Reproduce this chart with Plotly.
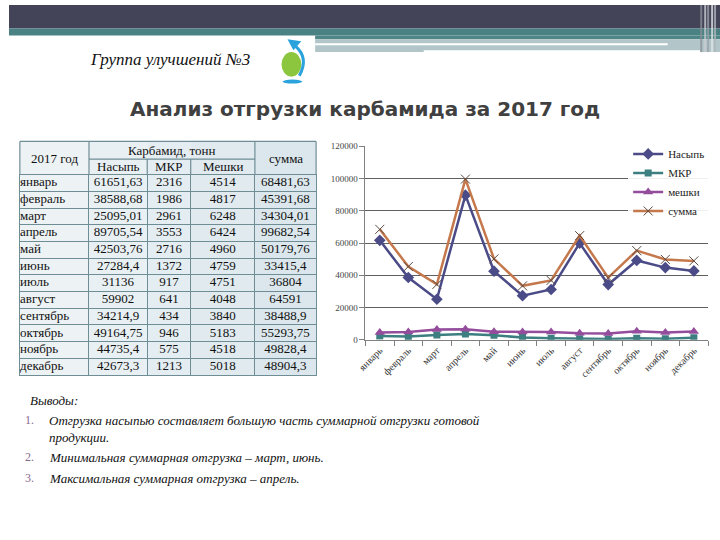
import plotly.graph_objects as go

W, H = 720, 540

months = ["январь", "февраль", "март", "апрель", "май", "июнь", "июль",
          "август", "сентябрь", "октябрь", "ноябрь", "декабрь"]
nasyp = [61651.63, 38588.68, 25095.01, 89705.54, 42503.76, 27284.4, 31136,
         59902, 34214.9, 49164.75, 44735.4, 42673.3]
mkr = [2316, 1986, 2961, 3553, 2716, 1372, 917, 641, 434, 946, 575, 1213]
meshki = [4514, 4817, 6248, 6424, 4960, 4759, 4751, 4048, 3840, 5183, 4518, 5018]
summa = [68481.63, 45391.68, 34304.01, 99682.54, 50179.76, 33415.4, 36804,
         64591, 38488.9, 55293.75, 49828.4, 48904.3]

series_names = ["Насыпь", "МКР", "мешки", "сумма"]
table_header_top = ["2017 год", "Карбамид, тонн", "сумма"]
table_header_sub = ["Насыпь", "МКР", "Мешки"]
title_group = "Группа улучшений №3"
title_main = "Анализ отгрузки карбамида за 2017 год"
conclusions_head = "Выводы:"
conclusions = [
    ["Отгрузка насыпью составляет большую часть суммарной отгрузки готовой", "продукции."],
    ["Минимальная суммарная отгрузка – март, июнь."],
    ["Максимальная суммарная отгрузка – апрель."],
]


def X(p):
    return p / W


def Y(p):
    return 1 - p / H


def fmt(v):
    return str(v).replace(".", ",")


SERIF = "Liberation Serif"
fig = go.Figure()

# ---------------- chart ----------------
styles = [
    dict(color="#4b4b88", symbol="diamond", size=9),
    dict(color="#3d7f80", symbol="square", size=7),
    dict(color="#944c9c", symbol="triangle-up", size=9),
    dict(color="#c4784c", symbol="x-thin-open", size=9),
]
for name, vals, st in zip(series_names, [nasyp, mkr, meshki, summa], styles):
    mk = dict(symbol=st["symbol"], size=st["size"], color=st["color"])
    if st["symbol"] == "x-thin-open":
        mk = dict(symbol="x-thin-open", size=st["size"], color="#5b4a42",
                  line=dict(color="#5b4a42", width=1))
    fig.add_trace(go.Scatter(
        x=months, y=vals, name=name, mode="lines+markers",
        line=dict(color=st["color"], width=2.5), marker=mk,
        xaxis="x", yaxis="y"))

# ---------------- table body via text on its own axes ----------------
col_edges = [0, 70, 129, 173, 238, 300]          # pixel widths of table columns
col_fills = ["#edf3f5", "#e8f0f3", "#e4edf1", "#e0eaef", "#dbe7ec"]
columns = [months, [fmt(v) for v in nasyp], [fmt(v) for v in mkr],
           [fmt(v) for v in meshki], [fmt(v) for v in summa]]
rows = [i + 0.5 for i in range(len(months))]
tfont = dict(family=SERIF, size=13, color="#111111")
for ci, col in enumerate(columns):
    if ci == 0:
        xpos = [col_edges[0] + 0.2] * len(col)
        tp = "middle right"
    else:
        xpos = [(col_edges[ci] + col_edges[ci + 1]) / 2] * len(col)
        tp = "middle center"
    fig.add_trace(go.Scatter(x=xpos, y=rows, text=col, mode="text", textposition=tp,
                             textfont=tfont, showlegend=False, hoverinfo="skip",
                             xaxis="x2", yaxis="y2", cliponaxis=False))

shapes = []
ann = []

# table fills (header + body)
TX0, TY0, TY1 = 11, 139, 377
for i in range(5):
    shapes.append(dict(type="rect", xref="paper", yref="paper", layer="below",
                       x0=X(TX0 + col_edges[i]), x1=X(TX0 + col_edges[i + 1]),
                       y0=Y(TY0), y1=Y(TY1), fillcolor=col_fills[i], line_width=0))


def prect(x0, x1, y0, y1, c, **kw):
    d = dict(type="rect", xref="paper", yref="paper", x0=X(x0), x1=X(x1), y0=Y(y0), y1=Y(y1),
             fillcolor=c, line_width=0)
    d.update(kw)
    return d


# ---------------- header band ----------------
shapes += [
    prect(0, 720, 0, 24, "#444458"),
    prect(0, 720, 24, 31, "#4a8283"),
    prect(310, 720, 31, 35, "#4f8788"),
    prect(310, 720, 35, 48, "#b2c6c9"),
    prect(310, 667, 39, 41, "#ffffff"),
    prect(420, 700, 46, 48, "#ffffff"),
]
for xx, c in [(700, "#8a8f99"), (704, "#c9cdd3"), (707, "#9aa0a8"), (711, "#e0e3e6"), (714, "#b0b5bb")]:
    shapes.append(prect(xx, xx + 2, 0, 48, c, opacity=0.8))

# logo
shapes += [
    dict(type="circle", xref="paper", yref="paper", x0=X(276), x1=X(296), y0=Y(48), y1=Y(73),
         fillcolor="#8cc63f", line_width=0),
    dict(type="circle", xref="paper", yref="paper", x0=X(277), x1=X(297), y0=Y(76), y1=Y(80),
         fillcolor="#2aa3dc", line_width=0),
    dict(type="path", xref="paper", yref="paper",
         path=f"M {X(294)},{Y(72)} Q {X(304)},{Y(54)} {X(290)},{Y(42)}",
         line=dict(color="#2aa3dc", width=3)),
    dict(type="path", xref="paper", yref="paper",
         path=f"M {X(282)},{Y(35)} L {X(296)},{Y(37)} L {X(288)},{Y(46)} Z",
         fillcolor="#2aa3dc", line_width=0),
]

ann.append(dict(text="<i>" + title_group + "</i>", xref="paper", yref="paper",
                x=X(80), y=Y(56), xanchor="left", yanchor="middle",
                showarrow=False, font=dict(family=SERIF, size=17, color="#111111")))
ann.append(dict(text="<b>" + title_main + "</b>", xref="paper", yref="paper",
                x=X(361), y=Y(106), xanchor="center", yanchor="middle", showarrow=False,
                font=dict(family="DejaVu Sans", size=20, color="#404040")))

# ---------------- table header lines ----------------
lc = dict(color="#6f8d95", width=1.2)


def pline(x0, x1, y0, y1):
    return dict(type="line", xref="paper", yref="paper", x0=X(x0), x1=X(x1),
                y0=Y(y0), y1=Y(y1), line=lc)


xs = [TX0 + e for e in col_edges]
shapes += [
    pline(xs[0], xs[5], 139, 139),
    pline(xs[0], xs[0], 139, 173),
    pline(xs[5], xs[5], 139, 173),
    pline(xs[1], xs[1], 139, 173),
    pline(xs[4], xs[4], 139, 173),
    pline(xs[2], xs[2], 157, 173),
    pline(xs[3], xs[3], 157, 173),
    pline(xs[1], xs[4], 157, 157),
]
hf = dict(family=SERIF, size=13, color="#111111")


def hann(text, cx, cy):
    return dict(text=text, xref="paper", yref="paper", x=X(cx), y=Y(cy),
                xanchor="center", yanchor="middle", showarrow=False, font=hf)


ann.append(hann(table_header_top[0], (xs[0] + xs[1]) / 2, 156))
ann.append(hann(table_header_top[1], (xs[1] + xs[4]) / 2, 148))
ann.append(hann(table_header_top[2], (xs[4] + xs[5]) / 2, 156))
for i, t in enumerate(table_header_sub):
    ann.append(hann(t, (xs[i + 1] + xs[i + 2]) / 2, 165))

# ---------------- conclusions ----------------
cf = dict(family=SERIF, size=13, color="#111111")
ann.append(dict(text="<i>" + conclusions_head + "</i>", xref="paper", yref="paper",
                x=X(19), y=Y(403), xanchor="left", yanchor="middle", showarrow=False, font=cf))
ys = [[423, 441], [461], [482]]
for k, (lines, yl) in enumerate(zip(conclusions, ys)):
    ann.append(dict(text=f"{k + 1}.", xref="paper", yref="paper", x=X(14), y=Y(yl[0]),
                    xanchor="left", yanchor="middle", showarrow=False,
                    font=dict(family=SERIF, size=12, color="#8a6a8e")))
    for line, yy in zip(lines, yl):
        ann.append(dict(text="<i>" + line + "</i>", xref="paper", yref="paper",
                        x=X(38), y=Y(yy), xanchor="left", yanchor="middle",
                        showarrow=False, font=cf))

fig.update_layout(
    width=W, height=H,
    margin=dict(l=0, r=0, t=0, b=0),
    paper_bgcolor="white", plot_bgcolor="rgba(0,0,0,0)",
    shapes=shapes, annotations=ann,
    xaxis=dict(domain=[X(361), X(708)], type="category", range=[-0.5, 11.5],
               showline=True, linecolor="#808080", linewidth=1,
               ticks="outside", tickson="boundaries", ticklen=5, tickcolor="#808080",
               tickangle=-45, showgrid=False,
               tickfont=dict(family=SERIF, size=10, color="#333333")),
    yaxis=dict(domain=[Y(341), Y(144)], range=[0, 120000], dtick=20000,
               showline=True, linecolor="#808080", linewidth=1,
               ticks="outside", ticklen=5, tickcolor="#808080",
               showgrid=True, gridcolor="#606060", gridwidth=1, zeroline=False,
               tickformat="d",
               tickfont=dict(family=SERIF, size=9, color="#444444")),
    xaxis2=dict(domain=[X(TX0), X(TX0 + col_edges[-1])], range=[0, col_edges[-1]],
                anchor="y2", tickvals=col_edges, showticklabels=False, ticks="",
                showgrid=True, gridcolor="#6f8d95", gridwidth=1.2, zeroline=False,
                showline=True, mirror=True, linecolor="#6f8d95", linewidth=1.2, fixedrange=True),
    yaxis2=dict(domain=[Y(TY1), Y(173)], range=[len(months), 0], anchor="x2",
                tickvals=list(range(len(months) + 1)), showticklabels=False, ticks="",
                showgrid=True, gridcolor="#6f8d95", gridwidth=1.2, zeroline=False,
                showline=True, mirror=True, linecolor="#6f8d95", linewidth=1.2, fixedrange=True),
    legend=dict(x=X(627), y=Y(137), xanchor="left", yanchor="top",
                bgcolor="rgba(255,255,255,0.9)", font=dict(family=SERIF, size=11, color="#222"),
                itemwidth=30, tracegroupgap=0),
    showlegend=True,
)

fig.write_html("out.html")
